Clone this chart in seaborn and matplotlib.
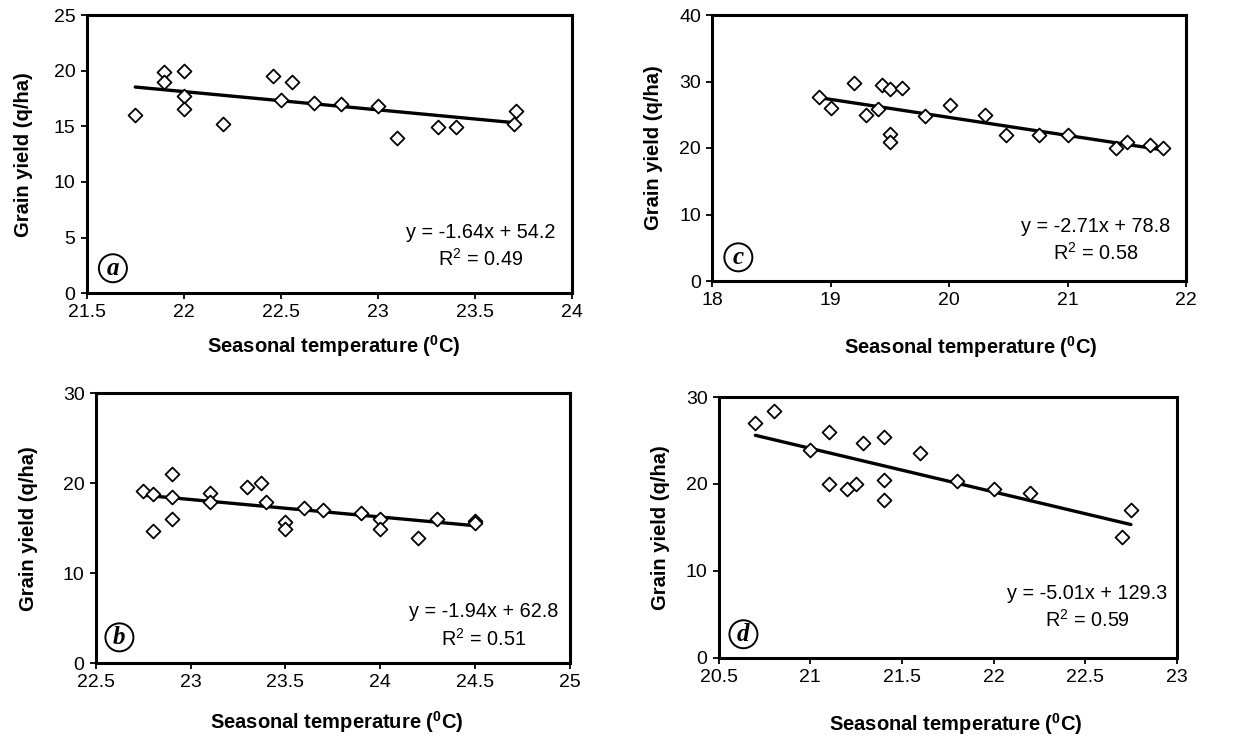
import matplotlib
matplotlib.use("Agg")
import matplotlib.pyplot as plt
import numpy as np
import pandas as pd
import seaborn as sns
from matplotlib.ticker import FuncFormatter

# ---------------- data ----------------
a_temp = [21.75, 21.9, 21.9, 22.0, 22.0, 22.0, 22.2, 22.46, 22.5, 22.56, 22.67, 22.81,
          23.0, 23.1, 23.31, 23.4, 23.71, 23.7]
a_yield = [16.0, 19.9, 19.0, 20.0, 17.7, 16.6, 15.2, 19.5, 17.4, 19.0, 17.1, 17.0,
           16.8, 13.95, 14.9, 14.9, 16.4, 15.2]

c_temp = [18.9, 19.0, 19.2, 19.3, 19.4, 19.43, 19.5, 19.5, 19.5, 19.6, 19.8, 20.01,
          20.3, 20.48, 20.76, 21.0, 21.41, 21.5, 21.7, 21.81]
c_yield = [27.7, 26.0, 29.7, 24.9, 25.9, 29.5, 28.8, 22.05, 20.85, 29.0, 24.8, 26.5,
           24.9, 22.0, 22.0, 22.0, 19.95, 20.9, 20.45, 19.95]

b_temp = [22.75, 22.8, 22.8, 22.9, 22.9, 22.9, 23.1, 23.1, 23.3, 23.37, 23.4, 23.5,
          23.5, 23.6, 23.7, 23.9, 24.0, 24.0, 24.2, 24.3, 24.5, 24.5]
b_yield = [19.14, 18.8, 14.7, 21.0, 18.5, 16.0, 18.95, 17.9, 19.6, 20.0, 17.9, 15.7,
           14.9, 17.25, 17.0, 16.7, 16.0, 14.9, 13.9, 16.0, 15.8, 15.6]

d_temp = [20.7, 20.8, 21.0, 21.1, 21.1, 21.2, 21.25, 21.29, 21.4, 21.4, 21.4, 21.6,
          21.8, 22.0, 22.2, 22.7, 22.75]
d_yield = [27.0, 28.4, 23.95, 25.95, 20.0, 19.46, 20.0, 24.7, 25.45, 20.5, 18.2, 23.5,
           20.35, 19.46, 18.93, 13.9, 17.04]

slopes = [-1.64, -2.71, -1.94, -5.01]
intercepts = [54.2, 78.8, 62.8, 129.3]
eq_texts = ["y = -1.64x + 54.2", "y = -2.71x + 78.8", "y = -1.94x + 62.8", "y = -5.01x + 129.3"]
r2_texts = ["0.49", "0.58", "0.51", "0.59"]
panel_letters = ["a", "c", "b", "d"]

x_limits = [(21.5, 24), (18, 22), (22.5, 25), (20.5, 23)]
x_steps = [0.5, 1, 0.5, 0.5]
y_limits = [(0, 25), (0, 40), (0, 30), (0, 30)]
y_steps = [5, 10, 10, 10]

xlabel_text = r"Seasonal temperature ($\mathbf{^{0}}$C)"
ylabel_text = "Grain yield (q/ha)"

# ---------------- style ----------------
sns.set_style("ticks")
plt.rcParams["font.family"] = ["Liberation Sans", "DejaVu Sans"]
plt.rcParams["mathtext.fontset"] = "custom"
plt.rcParams["mathtext.rm"] = "Liberation Sans"
plt.rcParams["mathtext.bf"] = "Liberation Sans:bold"
plt.rcParams["mathtext.default"] = "regular"
plt.rcParams["text.color"] = "black"
plt.rcParams["axes.labelcolor"] = "black"
plt.rcParams["xtick.color"] = "black"
plt.rcParams["ytick.color"] = "black"

fig = plt.figure(figsize=(12.44, 7.44), dpi=100)

# axes rectangles (left, bottom, width, height) in figure fractions
rects = [
    (86.7 / 1244, 1 - 293.3 / 744, (572 - 86.7) / 1244, (293.3 - 15) / 744),
    (712.3 / 1244, 1 - 281 / 744, (1186 - 712.3) / 1244, (281 - 15) / 744),
    (95.7 / 1244, 1 - 663.3 / 744, (570 - 95.7) / 1244, (663.3 - 393) / 744),
    (718.7 / 1244, 1 - 657.7 / 744, (1176.7 - 718.7) / 1244, (657.7 - 397) / 744),
]
text_pos = [(0.811, 0.168), (0.81, 0.152), (0.817, 0.138), (0.804, 0.193)]
letter_pos = [(0.054, 0.09), (0.055, 0.089), (0.05, 0.096), (0.054, 0.09)]
ylab_x = [-0.111, -0.104, -0.122, -0.106]
xlab_pos = [(0.51, -0.143), (0.546, -0.199), (0.509, -0.169), (0.518, -0.204)]

datasets = [(a_temp, a_yield), (c_temp, c_yield), (b_temp, b_yield), (d_temp, d_yield)]

for i, (xs, ys) in enumerate(datasets):
    ax = fig.add_axes(rects[i])
    df = pd.DataFrame({"temp": xs, "yield": ys})
    sns.scatterplot(data=df, x="temp", y="yield", marker="D", s=50,
                    facecolor="white", edgecolor="black", linewidth=1.3,
                    ax=ax, zorder=3)
    xfit = np.array([min(xs), max(xs)])
    yfit = slopes[i] * xfit + intercepts[i]
    sns.lineplot(x=xfit, y=yfit, color="black", linewidth=2.4, ax=ax, zorder=2)

    ax.set_xlim(*x_limits[i])
    ax.set_ylim(*y_limits[i])
    ax.set_xticks(np.arange(x_limits[i][0], x_limits[i][1] + 1e-9, x_steps[i]))
    ax.set_yticks(np.arange(y_limits[i][0], y_limits[i][1] + 1e-9, y_steps[i]))
    ax.xaxis.set_major_formatter(FuncFormatter(lambda v, p: f"{v:g}"))
    ax.yaxis.set_major_formatter(FuncFormatter(lambda v, p: f"{v:g}"))
    ax.tick_params(direction="out", length=4, width=1.3, labelsize=14,
                   colors="black", pad=4)
    for sp in ax.spines.values():
        sp.set_visible(True)
        sp.set_linewidth(2.2)
        sp.set_color("black")

    ax.set_xlabel(xlabel_text, fontsize=14.5, fontweight="bold")
    ax.set_ylabel(ylabel_text, fontsize=14.5, fontweight="bold")
    ax.xaxis.set_label_coords(*xlab_pos[i])
    ax.yaxis.set_label_coords(ylab_x[i], 0.5)

    ax.text(text_pos[i][0], text_pos[i][1],
            eq_texts[i] + "\n" + r"R$^2$ = " + r2_texts[i],
            transform=ax.transAxes, ha="center", va="center",
            multialignment="center", fontsize=14.3, linespacing=1.35)

    ax.text(letter_pos[i][0], letter_pos[i][1], panel_letters[i],
            transform=ax.transAxes, ha="center", va="center",
            fontsize=18, fontweight="bold", fontstyle="italic",
            family="Liberation Serif",
            bbox=dict(boxstyle="circle,pad=0.1", fc="white", ec="black", lw=1.4))

fig.savefig("out.png", dpi=100)
